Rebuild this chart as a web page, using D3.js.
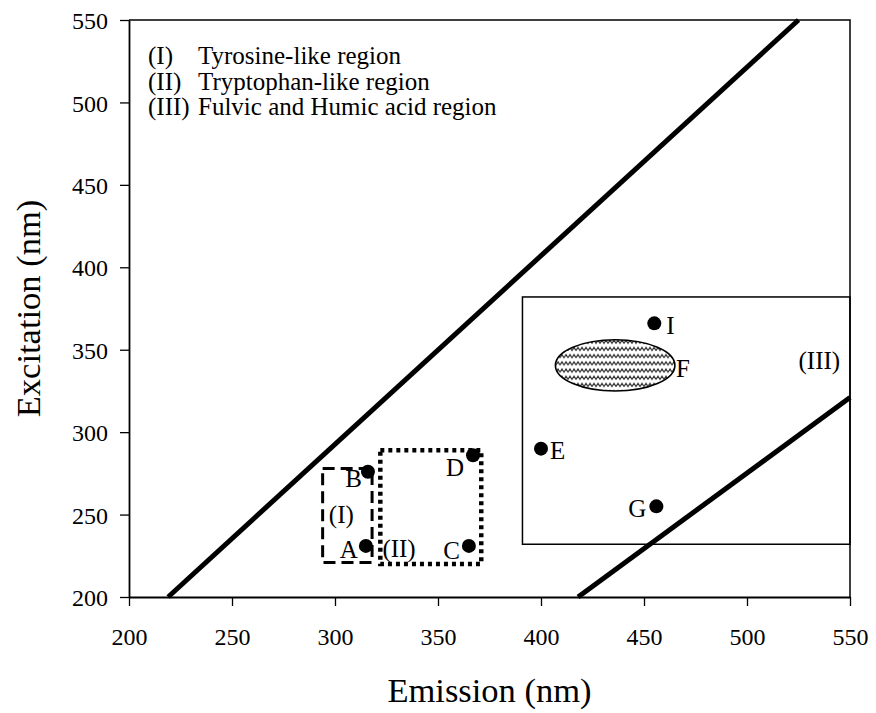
<!DOCTYPE html>
<html>
<head>
<meta charset="utf-8">
<script src="https://cdn.jsdelivr.net/npm/d3@7"></script>
<style>
  html, body { margin: 0; padding: 0; background: #fff; }
  svg text { font-family: "Liberation Serif", "Times New Roman", serif; fill: #000; }
</style>
</head>
<body>
<svg id="chart" width="876" height="713"></svg>
<script>
// Axis ranges and ticks (nm)
const emissionTicks = [200, 250, 300, 350, 400, 450, 500, 550];
const excitationTicks = [200, 250, 300, 350, 400, 450, 500, 550];

// Sample peaks: label, emission, excitation
const peakLabels = ["A", "B", "C", "D", "E", "G", "I"];
const peakEmission = [315, 316, 365, 367, 400, 456, 455];
const peakExcitation = [231, 276, 231, 286, 290, 255, 366];

// Broad peak F (ellipse extent)
const peakFEmission = [407, 465];
const peakFExcitation = [325, 356];

// Boundary lines (emission, excitation endpoints)
const upperLineEm = [219, 525];
const upperLineEx = [200, 550];
const lowerLineEm = [418, 550];
const lowerLineEx = [200, 321];

// Region boxes: [emMin, emMax], [exMin, exMax]
const regionNames = ["(I)", "(II)", "(III)"];
const regionEm = [[294, 318], [322, 371], [391, 550]];
const regionEx = [[221, 278], [220, 289], [232, 382]];
// Region label anchors (emission, excitation)
const regionLabelEm = [297, 323, 525];
const regionLabelEx = [245, 224, 338];

// Legend text
const legendKeys = ["(I)", "(II)", "(III)"];
const legendText = ["Tyrosine-like region", "Tryptophan-like region", "Fulvic and Humic acid region"];

const SERIF = '"Liberation Serif", "Times New Roman", serif';

const svg = d3.select("#chart");
const margin = { left: 129, right: 26, top: 20, bottom: 116 };
const W = 876, H = 713;
const x = d3.scaleLinear().domain([200, 550]).range([margin.left, W - margin.right]);
const y = d3.scaleLinear().domain([200, 550]).range([H - margin.bottom, margin.top]);

function label(sel, size) {
  return sel.style("font-family", SERIF).attr("font-size", size).attr("fill", "#000");
}

// Wavy hatch for the broad peak
const defs = svg.append("defs");
const pat = defs.append("pattern")
  .attr("id", "wave").attr("patternUnits", "userSpaceOnUse")
  .attr("width", 8).attr("height", 7.2);
pat.append("path")
  .attr("d", "M0,5 L2,1.8 L4,5 L6,1.8 L8,5")
  .attr("fill", "none").attr("stroke", "#333").attr("stroke-width", 1.2);

// Plot frame (top & right)
svg.append("path")
  .attr("d", `M${x(200)},${y(550)} H${x(550)} V${y(200)}`)
  .attr("fill", "none").attr("stroke", "#000").attr("stroke-width", 1.5);

// Axes
const xAxis = svg.append("g")
  .attr("transform", `translate(0,${y(200)})`)
  .call(d3.axisBottom(x).tickValues(emissionTicks).tickSize(9).tickSizeOuter(0).tickPadding(22));
const yAxis = svg.append("g")
  .attr("transform", `translate(${x(200)},0)`)
  .call(d3.axisLeft(y).tickValues(excitationTicks).tickSize(9).tickSizeOuter(0).tickPadding(12));
[xAxis, yAxis].forEach(g => {
  g.attr("font-family", null);
  g.selectAll("path.domain").attr("stroke", "#000").attr("stroke-width", 1.8);
  g.selectAll(".tick line").attr("stroke", "#000").attr("stroke-width", 1.3);
  label(g.selectAll(".tick text"), 24);
});
yAxis.selectAll(".tick text").attr("dy", "0.36em");

// Axis titles
label(svg.append("text"), 34.5)
  .attr("x", (x(200) + x(550)) / 2).attr("y", 702)
  .attr("text-anchor", "middle")
  .text("Emission (nm)");
label(svg.append("text"), 34.5)
  .attr("transform", `translate(40,${y(375)})rotate(-90)`)
  .attr("text-anchor", "middle")
  .text("Excitation (nm)");

// Boundary lines
const line = d3.line().x(d => x(d[0])).y(d => y(d[1]));
svg.append("path")
  .attr("d", line(upperLineEm.map((e, i) => [e, upperLineEx[i]])))
  .attr("stroke", "#000").attr("stroke-width", 5).attr("fill", "none");
svg.append("path")
  .attr("d", line(lowerLineEm.map((e, i) => [e, lowerLineEx[i]])))
  .attr("stroke", "#000").attr("stroke-width", 5).attr("fill", "none");

// Region boxes
const boxStyles = [
  { dash: "12,6", width: 3 },
  { dash: "4,4", width: 4.5 },
  { dash: null, width: 1.5 }
];
regionEm.forEach((em, i) => {
  const r = svg.append("rect")
    .attr("x", x(em[0])).attr("y", y(regionEx[i][1]))
    .attr("width", x(em[1]) - x(em[0]))
    .attr("height", y(regionEx[i][0]) - y(regionEx[i][1]))
    .attr("fill", "none").attr("stroke", "#000")
    .attr("stroke-width", boxStyles[i].width);
  if (boxStyles[i].dash) r.attr("stroke-dasharray", boxStyles[i].dash);
});

// Region labels
regionNames.forEach((n, i) => {
  label(svg.append("text"), 25)
    .attr("x", x(regionLabelEm[i])).attr("y", y(regionLabelEx[i]))
    .text(n);
});

// Broad peak F
const fcx = x((peakFEmission[0] + peakFEmission[1]) / 2);
const fcy = y((peakFExcitation[0] + peakFExcitation[1]) / 2);
const frx = (x(peakFEmission[1]) - x(peakFEmission[0])) / 2;
const fry = (y(peakFExcitation[0]) - y(peakFExcitation[1])) / 2;
svg.append("ellipse").attr("cx", fcx).attr("cy", fcy).attr("rx", frx).attr("ry", fry)
  .attr("fill", "#fff");
svg.append("ellipse").attr("cx", fcx).attr("cy", fcy).attr("rx", frx).attr("ry", fry)
  .attr("fill", "url(#wave)").attr("stroke", "#000").attr("stroke-width", 1.6);
label(svg.append("text"), 25)
  .attr("x", x(peakFEmission[1]) + 1).attr("y", fcy + 12)
  .text("F");

// Peak points
const labelPlacement = {
  A: { anchor: "end", dx: -8, dy: 12 },
  B: { anchor: "end", dx: -6, dy: 15 },
  C: { anchor: "end", dx: -9, dy: 13 },
  D: { anchor: "end", dx: -9, dy: 21 },
  E: { anchor: "start", dx: 9, dy: 10 },
  G: { anchor: "end", dx: -10, dy: 11 },
  I: { anchor: "start", dx: 12, dy: 11 }
};
peakLabels.forEach((lab, i) => {
  const px = x(peakEmission[i]), py = y(peakExcitation[i]);
  svg.append("circle").attr("cx", px).attr("cy", py).attr("r", 7).attr("fill", "#000");
  const p = labelPlacement[lab];
  label(svg.append("text"), 25)
    .attr("x", px + p.dx).attr("y", py + p.dy)
    .attr("text-anchor", p.anchor).text(lab);
});

// Legend
legendKeys.forEach((k, i) => {
  const by = 64 + i * 25.5;
  label(svg.append("text"), 25).attr("x", 148).attr("y", by).text(k);
  label(svg.append("text"), 25).attr("x", 198).attr("y", by).text(legendText[i]);
});
</script>
</body>
</html>
